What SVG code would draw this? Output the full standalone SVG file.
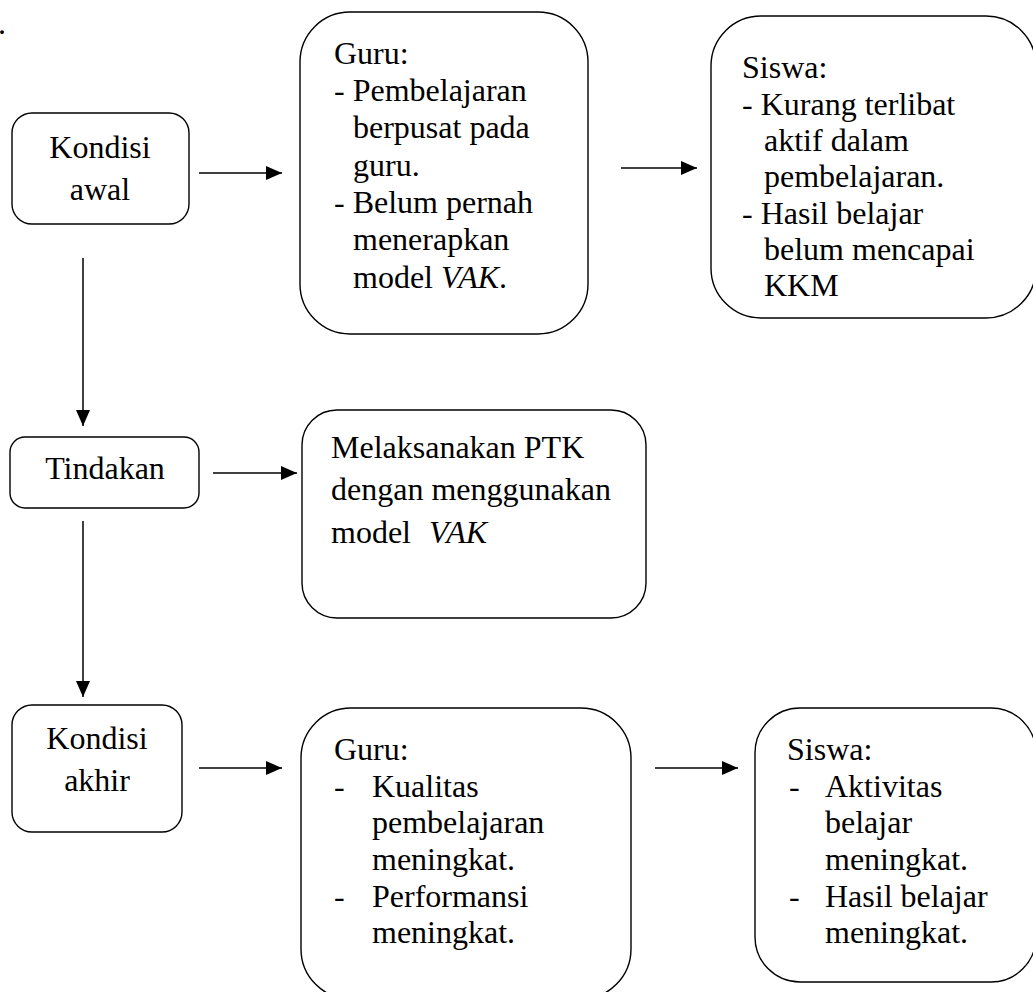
<svg xmlns="http://www.w3.org/2000/svg" width="1033" height="992" viewBox="0 0 1033 992">
<style>
  .box { fill: #ffffff; stroke: #000000; stroke-width: 1.4; }
  .t { font-family: "Times New Roman", "Liberation Serif", Tinos, "DejaVu Serif", serif; font-size: 32px; fill: #000000; }
  .c { text-anchor: middle; }
  .i { font-style: italic; }
  .conn line { stroke: #000000; stroke-width: 1.5; }
</style>
<defs>
  <marker id="ah" viewBox="0 0 16 14" refX="16" refY="7" markerWidth="16" markerHeight="14" markerUnits="userSpaceOnUse" orient="auto">
    <path d="M0,0 L16,7 L0,14 Z" fill="#000000"/>
  </marker>
</defs>
<rect width="1033" height="992" fill="#ffffff"/>
<text class="t" x="-2" y="34">.</text>

<g id="kondisi-awal">
  <rect class="box" x="12" y="113" width="177" height="111" rx="20" ry="20"/>
  <text class="t c" x="100" y="158">Kondisi</text>
  <text class="t c" x="100" y="200">awal</text>
</g>

<g id="guru-awal">
  <rect class="box" x="300" y="12" width="288" height="322" rx="50" ry="50"/>
  <text class="t" x="334" y="64">Guru:</text>
  <text class="t" x="334" y="101">- Pembelajaran</text>
  <text class="t" x="353" y="138">berpusat pada</text>
  <text class="t" x="353" y="176">guru.</text>
  <text class="t" x="334" y="213">- Belum pernah</text>
  <text class="t" x="353" y="250">menerapkan</text>
  <text class="t" x="353" y="288">model <tspan class="i">VAK</tspan>.</text>
</g>

<g id="siswa-awal">
  <rect class="box" x="711" y="16" width="325" height="302" rx="50" ry="50"/>
  <text class="t" x="742" y="78">Siswa:</text>
  <text class="t" x="742" y="115">- Kurang terlibat</text>
  <text class="t" x="764" y="151">aktif dalam</text>
  <text class="t" x="764" y="187">pembelajaran.</text>
  <text class="t" x="742" y="224">- Hasil belajar</text>
  <text class="t" x="764" y="260">belum mencapai</text>
  <text class="t" x="764" y="296">KKM</text>
</g>

<g id="tindakan">
  <rect class="box" x="10" y="437" width="189" height="71" rx="15" ry="15"/>
  <text class="t c" x="105" y="479">Tindakan</text>
</g>

<g id="melaksanakan">
  <rect class="box" x="302" y="410" width="344" height="208" rx="35" ry="35"/>
  <text class="t" x="331" y="458">Melaksanakan PTK</text>
  <text class="t" x="331" y="500">dengan menggunakan</text>
  <text class="t" x="331" y="543">model <tspan class="i" x="429">VAK</tspan></text>
</g>

<g id="kondisi-akhir">
  <rect class="box" x="12" y="705" width="170" height="127" rx="20" ry="20"/>
  <text class="t c" x="97" y="749">Kondisi</text>
  <text class="t c" x="97" y="791">akhir</text>
</g>

<g id="guru-akhir">
  <rect class="box" x="301" y="708" width="330" height="291" rx="50" ry="50"/>
  <text class="t" x="334" y="760">Guru:</text>
  <text class="t" x="334" y="797">-</text>
  <text class="t" x="372" y="797">Kualitas</text>
  <text class="t" x="372" y="833">pembelajaran</text>
  <text class="t" x="372" y="870">meningkat.</text>
  <text class="t" x="334" y="907">-</text>
  <text class="t" x="372" y="907">Performansi</text>
  <text class="t" x="372" y="943">meningkat.</text>
</g>

<g id="siswa-akhir">
  <rect class="box" x="755" y="708" width="281" height="274" rx="45" ry="45"/>
  <text class="t" x="787" y="760">Siswa:</text>
  <text class="t" x="789" y="797">-</text>
  <text class="t" x="825" y="797">Aktivitas</text>
  <text class="t" x="825" y="833">belajar</text>
  <text class="t" x="825" y="870">meningkat.</text>
  <text class="t" x="789" y="907">-</text>
  <text class="t" x="825" y="907">Hasil belajar</text>
  <text class="t" x="825" y="943">meningkat.</text>
</g>

<g id="connectors" class="conn">
  <line x1="199" y1="173" x2="282" y2="173" marker-end="url(#ah)"/>
  <line x1="621" y1="168" x2="697" y2="168" marker-end="url(#ah)"/>
  <line x1="83" y1="258" x2="83" y2="426" marker-end="url(#ah)"/>
  <line x1="213" y1="473" x2="297" y2="473" marker-end="url(#ah)"/>
  <line x1="83" y1="521" x2="83" y2="697" marker-end="url(#ah)"/>
  <line x1="199" y1="768" x2="282" y2="768" marker-end="url(#ah)"/>
  <line x1="655" y1="768" x2="738" y2="768" marker-end="url(#ah)"/>
</g>
</svg>
